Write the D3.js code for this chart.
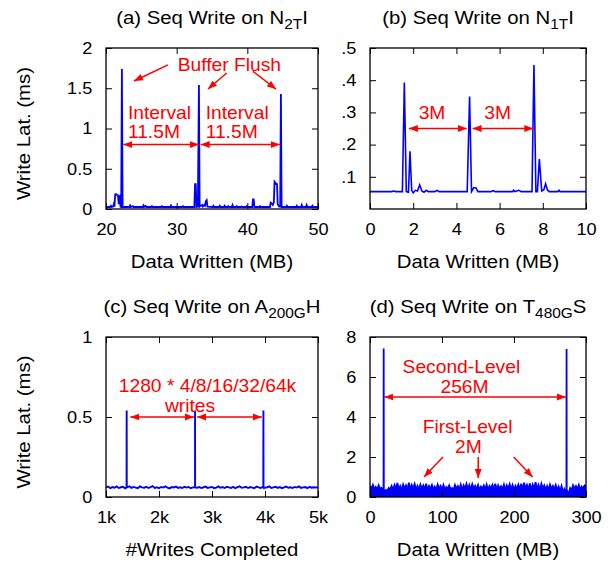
<!DOCTYPE html>
<html><head><meta charset="utf-8">
<script src="https://cdn.jsdelivr.net/npm/d3@7"></script>
<style>body{margin:0;background:#fff}</style>
</head><body><svg id="chart" width="613" height="562"></svg>
<script>
// ---------------- DATA ----------------
// (a) Seq Write on N2TI : [data written MB, write latency ms]
const aSeries = [[20.0,0.025],[20.6,0.025],[20.7,0.04],[20.8,0.025],[21.0,0.03],[21.1,0.06],[21.2,0.03],[21.3,0.18],[21.4,0.185],[21.5,0.18],[21.6,0.17],[21.7,0.17],[21.8,0.06],[21.85,0.15],[21.95,0.16],[22.05,0.03],[22.15,0.025],[22.25,1.74],[22.35,0.025],[22.5,0.025],[23.3,0.025],[23.4,0.045],[23.5,0.025],[23.8,0.035],[23.9,0.025],[25.2,0.025],[25.3,0.045],[25.4,0.025],[25.6,0.04],[25.7,0.025],[26.4,0.025],[26.5,0.035],[26.6,0.025],[27.8,0.025],[27.9,0.035],[28.0,0.025],[29.1,0.025],[29.2,0.045],[29.3,0.025],[30.8,0.025],[30.9,0.035],[31.0,0.025],[32.5,0.025],[32.6,0.31],[32.7,0.31],[32.8,0.025],[33.0,0.03],[33.15,1.54],[33.25,0.03],[33.4,0.04],[33.6,0.05],[33.7,0.03],[33.9,0.05],[34.0,0.04],[34.15,0.1],[34.25,0.11],[34.35,0.03],[35.1,0.025],[35.2,0.04],[35.3,0.025],[36.0,0.025],[36.1,0.04],[36.2,0.025],[36.7,0.025],[36.8,0.04],[36.9,0.025],[37.2,0.025],[37.3,0.035],[37.4,0.025],[37.8,0.025],[37.9,0.05],[38.0,0.025],[38.4,0.025],[38.5,0.035],[38.6,0.025],[39.1,0.025],[39.2,0.03],[39.3,0.025],[39.8,0.025],[39.9,0.035],[40.0,0.025],[40.7,0.025],[40.8,0.12],[40.9,0.12],[41.0,0.025],[41.7,0.025],[41.8,0.035],[41.9,0.025],[43.2,0.025],[43.3,0.08],[43.45,0.07],[43.6,0.05],[43.75,0.08],[43.85,0.34],[43.95,0.33],[44.1,0.31],[44.2,0.31],[44.3,0.06],[44.5,0.03],[44.65,0.03],[44.75,1.43],[44.85,0.025],[45.5,0.025],[45.6,0.04],[45.7,0.025],[46.9,0.025],[47.0,0.04],[47.1,0.025],[47.6,0.025],[47.7,0.05],[47.8,0.025],[48.3,0.025],[48.4,0.05],[48.5,0.025],[49.1,0.025],[49.2,0.04],[49.3,0.025],[50.0,0.025]];

// (b) Seq Write on N1TI
const bSeries = [[0,0.054],[1.0,0.054],[1.1,0.056],[1.2,0.054],[1.5,0.054],[1.59,0.393],[1.68,0.054],[1.78,0.052],[1.85,0.179],[1.93,0.058],[2.0,0.05],[2.1,0.058],[2.2,0.056],[2.3,0.075],[2.4,0.056],[2.5,0.052],[2.6,0.058],[2.7,0.054],[3.0,0.054],[3.1,0.058],[3.2,0.054],[4.5,0.054],[4.61,0.349],[4.7,0.054],[4.8,0.066],[4.9,0.066],[5.0,0.054],[5.6,0.054],[5.7,0.057],[5.8,0.054],[6.6,0.054],[6.65,0.058],[6.7,0.054],[6.9,0.058],[7.0,0.054],[7.5,0.054],[7.59,0.447],[7.68,0.054],[7.75,0.054],[7.84,0.155],[7.95,0.056],[8.05,0.06],[8.13,0.078],[8.22,0.058],[8.3,0.054],[8.7,0.054],[8.75,0.058],[8.8,0.054],[10,0.054]];

// (c) Seq Write on A200GH : baseline samples every cStep writes from cStart, plus flush spikes
const cStart = 1000, cStep = 40;
const cNoise = [0.060,0.065,0.055,0.062,0.058,0.066,0.056,0.061,0.064,0.054,0.060,0.067,0.057,0.063,0.059,0.055,0.066,0.060,0.058,0.064,
0.056,0.062,0.068,0.057,0.061,0.055,0.063,0.059,0.066,0.058,0.054,0.062,0.060,0.065,0.057,0.061,0.056,0.064,0.059,0.063,
0.055,0.060,0.066,0.058,0.062,0.056,0.061,0.065,0.057,0.060,0.063,0.055,0.059,0.066,0.058,0.062,0.056,0.064,0.060,0.057,
0.063,0.055,0.061,0.067,0.058,0.060,0.064,0.056,0.062,0.059,0.055,0.065,0.060,0.057,0.063,0.058,0.061,0.066,0.056,0.060,
0.064,0.057,0.062,0.055,0.060,0.065,0.058,0.061,0.056,0.063,0.059,0.066,0.057,0.060,0.062,0.055,0.064,0.058,0.061,0.059,0.060];
const cSpikes = [[1388,0.06],[1390,0.54],[1392,0.06],[2678,0.06],[2680,0.54],[2682,0.06],[3968,0.06],[3970,0.54],[3972,0.06]];

// (d) Seq Write on T480GS : samples every dStep MB from 0, plus second-level flush spikes
const dStart = 0, dStep = 2;
const dNoise = [0.55,0.42,0.60,0.38,0.50,0.35,0.58,0.42,0.45,0.30,
0.25,0.35,0.30,0.45,0.38,0.55,0.35,0.60,0.42,0.70,
0.38,0.55,0.35,0.62,0.42,0.58,0.38,0.72,0.35,0.60,
0.42,0.65,0.38,0.55,0.35,0.62,0.42,0.58,0.38,0.66,
0.35,0.55,0.42,0.60,0.38,0.52,0.35,0.62,0.42,0.56,
0.38,0.60,0.35,0.50,0.42,0.58,0.38,0.45,0.35,0.60,
0.42,0.55,0.38,0.62,0.35,0.58,0.42,0.66,0.38,0.60,
0.35,0.64,0.42,0.56,0.38,0.60,0.35,0.52,0.42,0.58,
0.38,0.62,0.35,0.55,0.42,0.60,0.38,0.66,0.35,0.58,
0.42,0.54,0.38,0.62,0.35,0.58,0.42,0.64,0.38,0.60,
0.35,0.56,0.42,0.62,0.38,0.66,0.35,0.72,0.42,0.60,
0.38,0.68,0.35,0.62,0.42,0.74,0.38,0.60,0.35,0.66,
0.42,0.58,0.38,0.55,0.35,0.62,0.42,0.56,0.38,0.60,
0.35,0.52,0.30,0.55,0.25,0.40,0.20,0.30,0.15,0.45,
0.35,0.58,0.42,0.55,0.38,0.60,0.35,0.52,0.42,0.58,
0.55];
const dSpikes = [[18.8,0.2],[19,7.43],[19.2,0.2],[272.8,0.15],[273,7.4],[273.2,0.2]];

// tick values and labels
const aXTicks = [20,30,40,50], aYTicks = [0,0.5,1,1.5,2], aYLabels = ["0","0.5","1","1.5","2"];
const bXTicks = [0,2,4,6,8,10], bYTicks = [0.1,0.2,0.3,0.4,0.5], bYLabels = [".1",".2",".3",".4",".5"];
const cXTicks = [1000,2000,3000,4000,5000], cXLabels = ["1k","2k","3k","4k","5k"], cYTicks = [0,0.5,1], cYLabels = ["0","0.5","1"];
const dXTicks = [0,100,200,300], dYTicks = [0,2,4,6,8];

// ---------------- DRAWING ----------------
const SX = 1.1;
const FONT = '"Liberation Sans", Arial, Helvetica, sans-serif';
const BLUE = "#0000ff", RED = "#ff0000";
const svg = d3.select("#chart").style("font-family", FONT);

const defs = svg.append("defs");
defs.append("marker").attr("id","ah").attr("markerUnits","userSpaceOnUse")
  .attr("markerWidth",10).attr("markerHeight",8).attr("refX",9).attr("refY",4)
  .attr("orient","auto-start-reverse")
  .append("path").attr("d","M0,0.5 L9,4 L0,7.5 Z").attr("fill",RED);

function addText(g, x, y, str, size, anchor, fill, rot) {
  return g.append("text")
    .attr("transform", `translate(${x},${y})` + (rot ? ` rotate(${rot})` : "") + ` scale(${SX},1)`)
    .attr("font-size", size).attr("text-anchor", anchor).attr("fill", fill || "#000").text(str);
}

function drawPanel(cfg) {
  const g = svg.append("g");
  const x = d3.scaleLinear().domain(cfg.xDomain).range([cfg.x0, cfg.x1]);
  const y = d3.scaleLinear().domain(cfg.yDomain).range([cfg.y1, cfg.y0]);
  const cid = "clip" + cfg.id;
  defs.append("clipPath").attr("id", cid).append("rect")
    .attr("x", cfg.x0).attr("y", cfg.y0).attr("width", cfg.x1 - cfg.x0).attr("height", cfg.y1 - cfg.y0);

  // dense series: fill beneath so the rapid oscillation renders solid
  if (cfg.fill) {
    g.append("path").datum(cfg.series)
      .attr("clip-path", `url(#${cid})`)
      .attr("fill", BLUE).attr("stroke", "none")
      .attr("d", d3.area().x(d => x(d[0])).y0(y(cfg.yDomain[0])).y1(d => y(d[1])));
  }
  // series line
  g.append("path").datum(cfg.series)
    .attr("clip-path", `url(#${cid})`)
    .attr("fill", "none").attr("stroke", BLUE).attr("stroke-width", cfg.lw || 1.6)
    .attr("stroke-linejoin", "miter")
    .attr("d", d3.line().x(d => x(d[0])).y(d => y(d[1])));

  // axes (inward ticks, mirrored)
  const fmtX = cfg.xLabels ? (d => cfg.xLabels[cfg.xTicks.indexOf(d)]) : d3.format("d");
  const fmtY = cfg.yLabels ? (d => cfg.yLabels[cfg.yTicks.indexOf(d)]) : d3.format("d");
  const ax = [
    g.append("g").attr("transform", `translate(0,${cfg.y1})`).call(d3.axisBottom(x).tickValues(cfg.xTicks).tickSize(-6).tickPadding(14).tickFormat(fmtX)),
    g.append("g").attr("transform", `translate(0,${cfg.y0})`).call(d3.axisTop(x).tickValues(cfg.xTicks).tickSize(-6).tickFormat("")),
    g.append("g").attr("transform", `translate(${cfg.x0},0)`).call(d3.axisLeft(y).tickValues(cfg.yTicks).tickSize(-6).tickPadding(12.5).tickFormat(fmtY)),
    g.append("g").attr("transform", `translate(${cfg.x1},0)`).call(d3.axisRight(y).tickValues(cfg.yTicks).tickSize(-6).tickFormat(""))
  ];
  ax.forEach(a => {
    a.select(".domain").remove();
    a.selectAll("line").attr("stroke", "#000").attr("stroke-width", 1);
    a.selectAll("text").attr("font-size", 16.5).attr("font-family", FONT).attr("fill", "#000")
      .attr("transform", `scale(${SX},1)`);
  });

  // frame
  g.append("rect").attr("x", cfg.x0).attr("y", cfg.y0)
    .attr("width", cfg.x1 - cfg.x0).attr("height", cfg.y1 - cfg.y0)
    .attr("fill", "none").attr("stroke", "#000").attr("stroke-width", 1.3);

  // title with subscript
  const cx = (cfg.x0 + cfg.x1) / 2;
  const t = g.append("text").attr("transform", `translate(${cx},${cfg.y0 - 24}) scale(${SX},1)`)
    .attr("text-anchor", "middle").attr("font-size", 18.5).attr("fill", "#000");
  t.append("tspan").text(cfg.title[0]);
  t.append("tspan").attr("font-size", 14).attr("dy", 5).text(cfg.title[1]);
  t.append("tspan").attr("font-size", 18.5).attr("dy", -5).text(cfg.title[2]);

  // axis labels
  addText(g, cx, cfg.y1 + 59, cfg.xLabel, 18.5, "middle");
  if (cfg.yLabel) addText(g, 30, (cfg.y0 + cfg.y1) / 2 + 5, cfg.yLabel, 18.5, "middle", "#000", -90);

  // annotations
  (cfg.arrows || []).forEach(a => {
    g.append("line").attr("x1", x(a[0])).attr("y1", y(a[1])).attr("x2", x(a[2])).attr("y2", y(a[3]))
      .attr("stroke", RED).attr("stroke-width", 1.5)
      .attr("marker-end", "url(#ah)")
      .attr("marker-start", a[4] ? "url(#ah)" : null);
  });
  (cfg.labels || []).forEach(l => addText(g, x(l[1]), y(l[2]), l[0], 17.5, l[3], RED));
}

const panels = [
  { id: "a", x0: 106, x1: 318, y0: 48, y1: 209, xDomain: [20, 50], yDomain: [0, 2],
    series: aSeries, xTicks: aXTicks, yTicks: aYTicks, yLabels: aYLabels, lw: 1.8,
    title: ["(a) Seq Write on N", "2T", "I"], xLabel: "Data Written (MB)", yLabel: "Write Lat. (ms)",
    arrows: [[22.45, 0.8, 33.15, 0.8, true], [33.4, 0.8, 44.6, 0.8, true],
             [28.77, 1.79, 23.96, 1.59], [37.08, 1.69, 34.43, 1.49], [40.8, 1.71, 44.06, 1.49]],
    labels: [["Buffer Flush", 30.15, 1.71, "start"], ["Interval", 23.1, 1.118, "start"], ["11.5M", 23.1, 0.882, "start"],
             ["Interval", 34.1, 1.118, "start"], ["11.5M", 34.1, 0.882, "start"]] },
  { id: "b", x0: 370, x1: 586, y0: 48, y1: 209, xDomain: [0, 10], yDomain: [0, 0.5],
    series: bSeries, xTicks: bXTicks, yTicks: bYTicks, yLabels: bYLabels,
    title: ["(b) Seq Write on N", "1T", "I"], xLabel: "Data Written (MB)",
    arrows: [[1.8, 0.25, 4.48, 0.25, true], [4.75, 0.25, 7.56, 0.25, true]],
    labels: [["3M", 2.87, 0.278, "middle"], ["3M", 5.91, 0.278, "middle"]] },
  { id: "c", x0: 106, x1: 318, y0: 337, y1: 497, xDomain: [1000, 5000], yDomain: [0, 1],
    series: cNoise.map((v, i) => [cStart + i * cStep, v]).concat(cSpikes).sort((p, q) => p[0] - q[0]),
    xTicks: cXTicks, xLabels: cXLabels, yTicks: cYTicks, yLabels: cYLabels, lw: 1.9,
    title: ["(c) Seq Write on A", "200G", "H"], xLabel: "#Writes Completed", yLabel: "Write Lat. (ms)",
    arrows: [[1460, 0.5, 2660, 0.5, true], [2720, 0.5, 3940, 0.5, true]],
    labels: [["1280 * 4/8/16/32/64k", 2915, 0.658, "middle"], ["writes", 2585, 0.534, "middle"]] },
  { id: "d", x0: 370, x1: 586, y0: 337, y1: 497, xDomain: [0, 300], yDomain: [0, 8],
    series: dNoise.map((v, i) => [dStart + i * dStep, v]).concat(dSpikes).sort((p, q) => p[0] - q[0]),
    xTicks: dXTicks, yTicks: dYTicks, lw: 1.8, fill: true,
    title: ["(d) Seq Write on T", "480G", "S"], xLabel: "Data Written (MB)",
    arrows: [[20, 5, 272, 5, true], [101.3, 2.0, 75, 1.0], [150.3, 2.0, 150.3, 0.95], [199.5, 2.0, 225.8, 1.0]],
    labels: [["Second-Level", 126.9, 6.215, "middle"], ["256M", 131.3, 5.215, "middle"],
             ["First-Level", 135.5, 3.2, "middle"], ["2M", 136.6, 2.215, "middle"]] }
];
panels.forEach(drawPanel);
</script></body></html>
